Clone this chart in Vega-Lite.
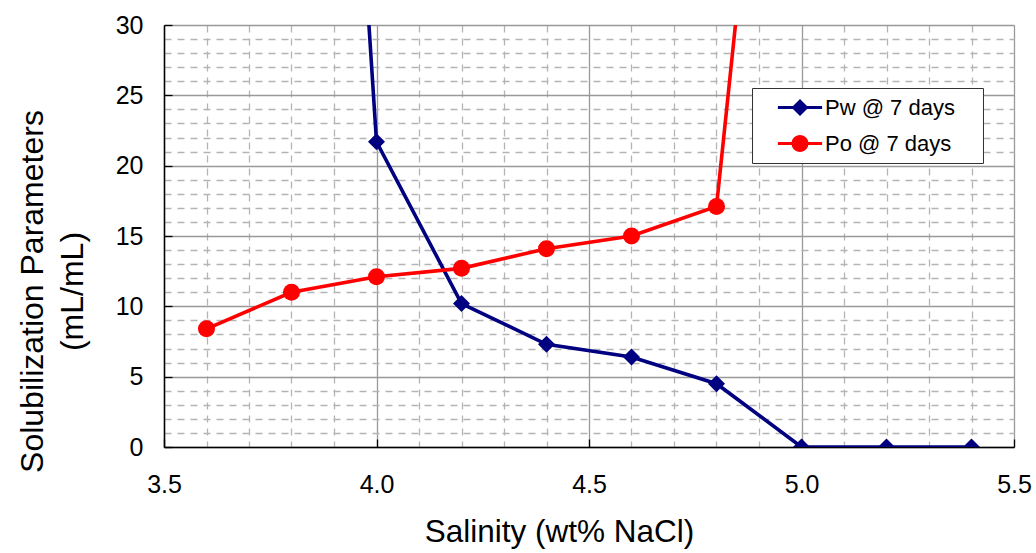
{
  "$schema": "https://vega.github.io/schema/vega-lite/v6.json",
  "width": 850,
  "height": 422,
  "autosize": "none",
  "padding": {"left": 164, "top": 25, "right": 22, "bottom": 106},
  "background": "white",
  "config": {
    "view": {"stroke": null},
    "font": "Liberation Sans",
    "axis": {"labelColor": "black", "titleColor": "black", "titleFontWeight": "normal", "labelFont": "Liberation Sans", "titleFont": "Liberation Sans"}
  },
  "data": {
    "values": [
      {"series": "Pw @ 7 days", "salinity": 3.8, "value": 115},
      {"series": "Pw @ 7 days", "salinity": 4.0, "value": 21.7},
      {"series": "Pw @ 7 days", "salinity": 4.2, "value": 10.2},
      {"series": "Pw @ 7 days", "salinity": 4.4, "value": 7.3},
      {"series": "Pw @ 7 days", "salinity": 4.6, "value": 6.4},
      {"series": "Pw @ 7 days", "salinity": 4.8, "value": 4.5},
      {"series": "Pw @ 7 days", "salinity": 5.0, "value": 0},
      {"series": "Pw @ 7 days", "salinity": 5.2, "value": 0},
      {"series": "Pw @ 7 days", "salinity": 5.4, "value": 0},
      {"series": "Po @ 7 days", "salinity": 3.6, "value": 8.4},
      {"series": "Po @ 7 days", "salinity": 3.8, "value": 11.0},
      {"series": "Po @ 7 days", "salinity": 4.0, "value": 12.1},
      {"series": "Po @ 7 days", "salinity": 4.2, "value": 12.7},
      {"series": "Po @ 7 days", "salinity": 4.4, "value": 14.1},
      {"series": "Po @ 7 days", "salinity": 4.6, "value": 15.0},
      {"series": "Po @ 7 days", "salinity": 4.8, "value": 17.1},
      {"series": "Po @ 7 days", "salinity": 5.0, "value": 75}
    ]
  },
  "layer": [
    {
      "mark": {"type": "line", "strokeWidth": 3.6, "clip": true},
      "encoding": {
        "x": {
          "field": "salinity", "type": "quantitative",
          "scale": {"domain": [3.5, 5.5], "nice": false, "zero": false},
          "axis": {
            "values": [3.5, 3.6, 3.7, 3.8, 3.9, 4.0, 4.1, 4.2, 4.3, 4.4, 4.5, 4.6, 4.7, 4.8, 4.9, 5.0, 5.1, 5.2, 5.3, 5.4, 5.5],
            "tickCount": 50,
            "title": "Salinity (wt% NaCl)",
            "labelExpr": "round(datum.value*10)%5===0 ? format(datum.value,'.1f') : ''",
            "labelOverlap": false,
            "labelFlush": false,
            "labelFontSize": 25,
            "labelPadding": 33,
            "grid": true,
            "gridColor": {"condition": {"test": "round(datum.value*10)%5===0", "value": "#999999"}, "value": "#b4b4b4"},
            "gridDash": {"condition": {"test": "round(datum.value*10)%5===0", "value": []}, "value": [7, 6]},
            "gridWidth": 1.3,
            "domainColor": "black",
            "domainWidth": 1.5,
            "ticks": true,
            "tickSize": -8,
            "tickColor": "black",
            "tickWidth": 1.3,
            "tickOpacity": {"condition": {"test": "round(datum.value*10)%5===0", "value": 1}, "value": 0},
            "titleFontSize": 31.5,
            "titleX": 395,
            "titleY": 94,
            "titleAlign": "center",
            "titleBaseline": "alphabetic"
          }
        },
        "y": {
          "field": "value", "type": "quantitative",
          "scale": {"domain": [0, 30], "nice": false},
          "axis": {
            "values": [0, 1, 2, 3, 4, 5, 6, 7, 8, 9, 10, 11, 12, 13, 14, 15, 16, 17, 18, 19, 20, 21, 22, 23, 24, 25, 26, 27, 28, 29, 30],
            "tickCount": 50,
            "title": ["Solubilization Parameters", "(mL/mL)"],
            "labelExpr": "datum.value%5===0 ? format(datum.value,'d') : ''",
            "labelOverlap": false,
            "labelFlush": false,
            "labelFontSize": 25,
            "labelPadding": 29,
            "grid": true,
            "gridColor": {"condition": {"test": "datum.value%5===0", "value": "#999999"}, "value": "#b4b4b4"},
            "gridDash": {"condition": {"test": "datum.value%5===0", "value": []}, "value": [7, 6]},
            "gridWidth": 1.3,
            "domainColor": "black",
            "domainWidth": 1.5,
            "ticks": true,
            "tickSize": -8,
            "tickColor": "black",
            "tickWidth": 1.3,
            "tickOpacity": {"condition": {"test": "datum.value%5===0", "value": 1}, "value": 0},
            "titleFontSize": 32,
            "titleLineHeight": 40,
            "titleAngle": -90,
            "titleX": -132,
            "titleY": 266,
            "titleAlign": "center",
            "titleBaseline": "middle"
          }
        },
        "color": {
          "field": "series", "type": "nominal",
          "scale": {"domain": ["Pw @ 7 days", "Po @ 7 days"], "range": ["#000080", "#FF0000"]},
          "legend": null
        }
      }
    },
    {
      "mark": {"type": "point", "filled": true, "opacity": 1, "size": 290, "clip": true},
      "encoding": {
        "x": {"field": "salinity", "type": "quantitative"},
        "y": {"field": "value", "type": "quantitative"},
        "color": {
          "field": "series", "type": "nominal",
          "scale": {"domain": ["Pw @ 7 days", "Po @ 7 days"], "range": ["#000080", "#FF0000"]},
          "legend": null
        },
        "shape": {
          "field": "series", "type": "nominal",
          "scale": {"domain": ["Pw @ 7 days", "Po @ 7 days"], "range": ["diamond", "circle"]},
          "legend": null
        }
      }
    },
    {
      "transform": [{"filter": "false"}],
      "mark": {"type": "point", "filled": true, "opacity": 1, "size": 289},
      "encoding": {
        "x": {"field": "salinity", "type": "quantitative"},
        "y": {"field": "value", "type": "quantitative"},
        "color": {
          "field": "series", "type": "nominal",
          "scale": {"domain": ["Pw @ 7 days", "Po @ 7 days"], "range": ["#000080", "#FF0000"]},
          "legend": {
            "orient": "none", "legendX": 588, "legendY": 63, "title": null,
            "labelFontSize": 22, "labelFont": "Liberation Sans", "labelColor": "black",
            "symbolSize": 289, "symbolStrokeWidth": 0, "symbolOffset": 28.5, "labelOffset": 14,
            "padding": 8.5, "rowPadding": 14, "fillColor": "white", "strokeColor": "#333333"
          }
        },
        "shape": {
          "field": "series", "type": "nominal",
          "scale": {
            "domain": ["Pw @ 7 days", "Po @ 7 days"],
            "range": [
              "M-2.6,-0.18H2.6V0.18H-2.6ZM0,-1L1,0L0,1L-1,0ZM20.5,0L20.5,0.01Z",
              "M-2.6,-0.18H2.6V0.18H-2.6ZM-1,0A1,1,0,1,1,1,0A1,1,0,1,1,-1,0ZM20.5,0L20.5,0.01Z"
            ]
          },
          "legend": {
            "orient": "none", "legendX": 588, "legendY": 63, "title": null,
            "labelFontSize": 22, "labelFont": "Liberation Sans", "labelColor": "black",
            "symbolSize": 289, "symbolStrokeWidth": 0, "symbolOffset": 28.5, "labelOffset": 14,
            "padding": 8.5, "rowPadding": 14, "fillColor": "white", "strokeColor": "#333333"
          }
        }
      }
    }
  ],
  "resolve": {"scale": {"color": "independent", "shape": "independent"}}
}
